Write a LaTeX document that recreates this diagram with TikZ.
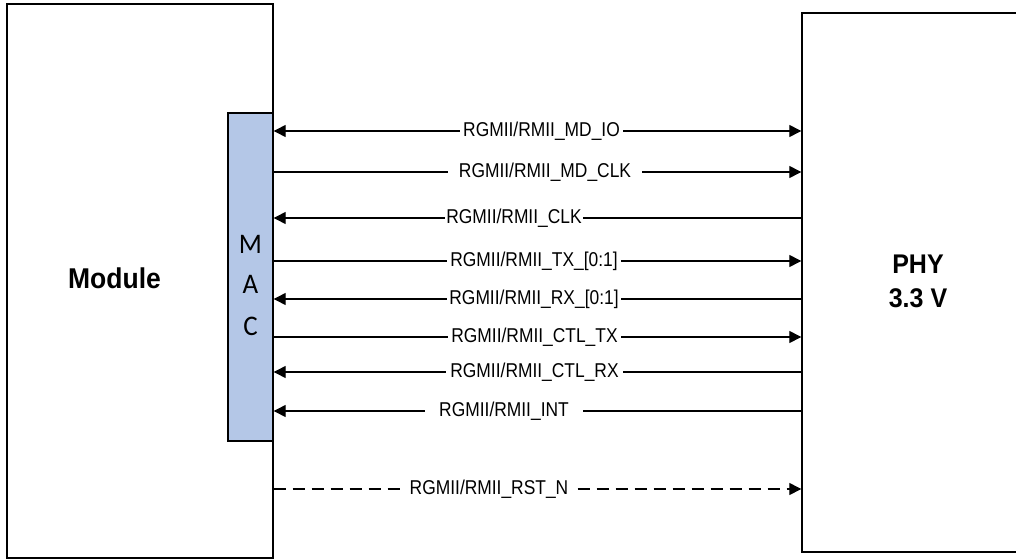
\documentclass[tikz,border=0pt]{standalone}
\usepackage{fontspec}
\setmainfont{Liberation Sans}
\newfontfamily\calib{Carlito}
\usetikzlibrary{arrows.meta}
\definecolor{macblue}{RGB}{180,199,231}
\begin{document}
\begin{tikzpicture}[x=1pt,y=-1pt,
  box/.style={draw=black, line width=1.4pt, inner sep=0pt},
  sig/.style={line width=1.3pt},
  tipend/.style={-{Triangle[length=12pt,width=12pt]}},
  tipboth/.style={{Triangle[length=12pt,width=12pt]}-{Triangle[length=12pt,width=12pt]}},
  lbl/.style={fill=white, inner ysep=2pt, inner xsep=#1, font=\fontsize{17.4}{20}\selectfont},
  lbl/.default=4pt,
  big/.style={font=\fontsize{25}{29}\bfseries\selectfont, align=center},
  macl/.style={font=\calib\fontsize{27}{31}\selectfont}]
\clip (0,0) rectangle (1016,559);
\fill[white] (0,0) rectangle (1016,559);
% boxes
\node[box, minimum width=266pt, minimum height=554pt] (module) at (140,281) {};
\node[box, fill=macblue, minimum width=45pt, minimum height=328pt] (mac) at (250.5,277) {};
\node[box, minimum width=240pt, minimum height=539pt] (phy) at (922,282.5) {};
% box texts
\node[big, font=\fontsize{26.5}{30}\bfseries\selectfont] (modlbl) at (114.5,278) {\scalebox{1}[1.08]{Module}};
\node[big, inner sep=0pt] (phylbl) at (918,281) {\scalebox{1}[1.08]{PHY}\\[5pt]\scalebox{1}[1.08]{3.3 V}};
\node[macl] (mm) at (250.5,244) {\scalebox{1}[1.05]{M}};
\node[macl] (ma) at (250.5,284) {\scalebox{1}[1.05]{A}};
\node[macl] (mc) at (250.5,326) {\scalebox{1}[1.05]{C}};
% rows
\coordinate (r1) at (0,131);
\coordinate (r2) at (0,172);
\coordinate (r3) at (0,218);
\coordinate (r4) at (0,261);
\coordinate (r5) at (0,299);
\coordinate (r6) at (0,337);
\coordinate (r7) at (0,372);
\coordinate (r8) at (0,411);
\coordinate (r9) at (0,489);
% connectors
\draw[sig, tipboth] (mac.east |- r1) -- (phy.west |- r1);
\draw[sig, tipend] (mac.east |- r2) -- (phy.west |- r2);
\draw[sig, tipend] (phy.west |- r3) -- (mac.east |- r3);
\draw[sig, tipend] (mac.east |- r4) -- (phy.west |- r4);
\draw[sig, tipend] (phy.west |- r5) -- (mac.east |- r5);
\draw[sig, tipend] (mac.east |- r6) -- (phy.west |- r6);
\draw[sig, tipend] (phy.west |- r7) -- (mac.east |- r7);
\draw[sig, tipend] (phy.west |- r8) -- (mac.east |- r8);
\draw[sig, tipend, dash pattern=on 12pt off 7pt] (module.east |- r9) -- (phy.west |- r9);
% labels
\node[lbl=3pt] (l1) at (541.5,131) {\scalebox{1}[1.15]{RGMII/RMII\_MD\_IO}};
\node[lbl=11pt] (l2) at (545,172) {\scalebox{1}[1.15]{RGMII/RMII\_MD\_CLK}};
\node[lbl=1pt] (l3) at (514,218) {\scalebox{1}[1.15]{RGMII/RMII\_CLK}};
\node[lbl=3pt] (l4) at (534,261) {\scalebox{1}[1.15]{RGMII/RMII\_TX\_[0:1]}};
\node[lbl=2pt] (l5) at (534,299) {\scalebox{1}[1.15]{RGMII/RMII\_RX\_[0:1]}};
\node[lbl=3pt] (l6) at (534.5,337) {\scalebox{1}[1.15]{RGMII/RMII\_CTL\_TX}};
\node[lbl=4pt] (l7) at (534.5,372) {\scalebox{1}[1.15]{RGMII/RMII\_CTL\_RX}};
\node[lbl=14pt] (l8) at (504,411) {\scalebox{1}[1.15]{RGMII/RMII\_INT}};
\node[lbl=9pt] (l9) at (489,489) {\scalebox{1}[1.15]{RGMII/RMII\_RST\_N}};
\end{tikzpicture}
\end{document}
